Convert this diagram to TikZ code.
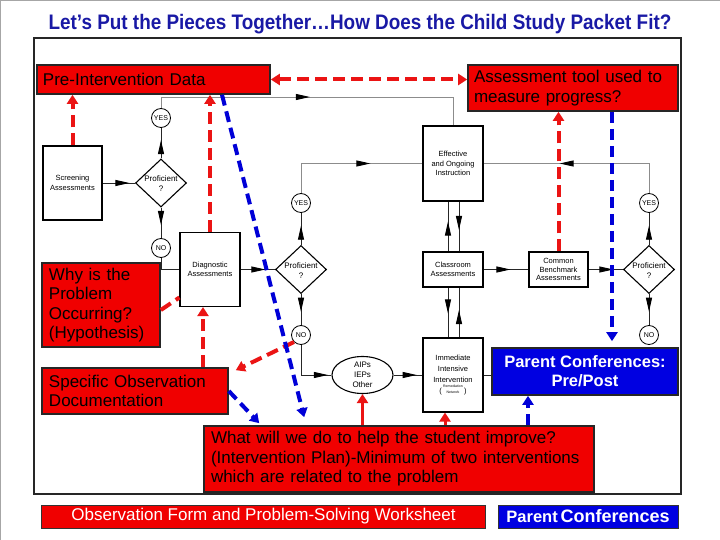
\documentclass[tikz,border=0pt]{standalone}
\usepackage{fontspec}
\setmainfont{Liberation Sans}
\newfontfamily\titlefont[FakeStretch=0.9]{Liberation Sans}
\usetikzlibrary{arrows.meta,shapes.geometric,decorations.markings,calc}
\definecolor{boxred}{RGB}{240,0,0}
\definecolor{boxblue}{RGB}{0,0,225}
\definecolor{titleblue}{RGB}{25,25,165}
\definecolor{dashblue}{RGB}{0,0,215}
\definecolor{dashred}{RGB}{235,20,20}
\tikzset{
  bigtext/.style={font=\fontsize{17bp}{19.4bp}\selectfont},
  redbox/.style={draw=black!85, line width=1.6bp, fill=boxred, inner xsep=6bp, inner ysep=0bp, align=left, bigtext},
  bluebox/.style={draw=black!85, line width=1.6bp, fill=boxblue, text=white, align=center, inner sep=0pt, font=\bfseries\fontsize{16.5bp}{19bp}\selectfont},
  fbox/.style={draw=black, line width=1.1bp, fill=white, align=center, inner sep=0pt, font=\fontsize{7.5bp}{9.5bp}\selectfont},
  fdia/.style={shape=diamond, draw=black, line width=1.1bp, fill=white, minimum width=51bp, minimum height=48bp, inner sep=0pt},
  ftext/.style={align=center, inner sep=0pt, font=\fontsize{8bp}{10bp}\selectfont},
  yn/.style={circle, draw=black, line width=0.8bp, fill=white, minimum size=19bp, inner sep=0pt, font=\fontsize{7bp}{8bp}\selectfont},
  flow/.style={draw=black!85, line width=0.9bp},
  greyflow/.style={draw=black!45, line width=0.9bp},
  midtip/.style={postaction={decorate}, decoration={markings, mark=at position #1 with {\arrow[black]{Triangle[length=14bp,width=6bp]}}}},
  reddash/.style={draw=dashred, line width=4bp, dash pattern=on 12bp off 6bp},
  bluedash/.style={draw=dashblue, line width=4bp, dash pattern=on 11bp off 6bp},
  dtip/.style={-{Triangle[length=9bp,width=11bp]}},
  redsolid/.style={draw=dashred, line width=3bp},
}
\begin{document}
\begin{tikzpicture}[x=1bp,y=-1bp]
\useasboundingbox (0,0) rectangle (720,540);
\fill[white] (0,0) rectangle (720,540);
\draw[gray!70, line width=1bp] (0.5,540) -- (0.5,0.5) -- (720,0.5);

% title
\node[font=\titlefont\bfseries\fontsize{21bp}{24bp}\selectfont, text=titleblue, inner sep=0pt] (title) at (360,24) {Let’s Put the Pieces Together…How Does the Child Study Packet Fit?};

% main frame
\draw[black!85, line width=1.8bp] (34,38) rectangle (681,494);

% flowchart nodes
\node[fbox, minimum width=59bp, minimum height=74bp] (screen) at (72.5,183) {Screening\\Assessments};
\node[fdia] (dia1) at (161,183) {};
\node[ftext] (dia1t) at (161,184) {Proficient\\?};
\node[yn] (yes1) at (161,118) {YES};
\node[yn] (no1) at (161,248) {NO};
\node[fbox, minimum width=60bp, minimum height=74bp] (diag) at (210,269.5) {Diagnostic\\Assessments};
\node[fdia] (dia2) at (301,269.5) {};
\node[ftext] (dia2t) at (301,270.5) {Proficient\\?};
\node[yn] (yes2) at (301,203) {YES};
\node[yn] (no2) at (301,335) {NO};
\node[fbox, minimum width=60bp, minimum height=75bp] (eff) at (453,163.5) {Effective\\and Ongoing\\Instruction};
\node[fbox, minimum width=60bp, minimum height=35bp] (cls) at (453,269.5) {Classroom\\Assessments};
\node[fbox, minimum width=60bp, minimum height=74bp, font=\fontsize{7.5bp}{11bp}\selectfont] (imm) at (453,375) {Immediate\\Intensive\\Intervention\\(\,{\fontsize{3.5bp}{3.8bp}\selectfont\shortstack{Remediation\\Network}}\,)};
\node[ellipse, draw=black, line width=1.1bp, fill=white, minimum width=61bp, minimum height=37bp, inner sep=0pt, align=center, font=\fontsize{8bp}{10bp}\selectfont] (aips) at (362.5,375) {AIPs\\IEPs\\Other};
\node[fbox, minimum width=59bp, minimum height=35bp, font=\fontsize{7.5bp}{8.7bp}\selectfont] (cbm) at (558.5,269.5) {Common\\Benchmark\\Assessments};
\node[fdia] (dia3) at (649,269.5) {};
\node[ftext] (dia3t) at (649,270.5) {Proficient\\?};
\node[yn] (yes3) at (649,203) {YES};
\node[yn] (no3) at (649,335) {NO};

% red / blue boxes
\node[redbox, text width=221bp, minimum height=29bp] (pre) at (153.5,79.5) {Pre-Intervention Data};
\node[redbox, text width=198bp, minimum height=46bp] (assess) at (573,88) {Assessment tool used to\\measure progress?};
\node[redbox, text width=104bp, minimum height=84bp, inner xsep=7bp] (why) at (101,305) {Why is the\\Problem\\Occurring?\\(Hypothesis)};
\node[redbox, text width=172bp, minimum height=46bp, inner xsep=7bp] (spec) at (135,391) {Specific Observation\\Documentation};
\node[redbox, text width=376bp, minimum height=66bp, inner xsep=7bp] (what) at (399,459) {What will we do to help the student improve?\\(Intervention Plan)-Minimum of two interventions\\which are related to the problem};
\node[bluebox, minimum width=186bp, minimum height=47bp] (pp) at (585,371.5) {Parent Conferences:\\Pre/Post};
\node[draw=black!80, line width=1bp, fill=boxred, text=white, minimum width=443bp, minimum height=23bp, inner sep=0pt, font=\fontsize{17bp}{18bp}\selectfont] (obs) at (263.5,516.5) {Observation Form and Problem-Solving Worksheet};
\node[draw=black!80, line width=1bp, fill=boxblue, text=white, minimum width=180bp, minimum height=23bp, inner sep=0pt] (pcb) at (588,516.5) {{\bfseries\fontsize{16.5bp}{18bp}\selectfont Parent} {\bfseries\fontsize{18bp}{18bp}\selectfont Conferences}};

% flowchart connectors
\coordinate (topy) at (0,97);
\draw[flow, midtip=0.83] (screen.east) -- (dia1.west);
\draw[flow, midtip=0.6] (dia1.north) -- (yes1.south);
\draw[flow, midtip=0.57] (dia1.south) -- (no1.north);
\draw[flow] (no1.south) |- (diag.west);
\draw[greyflow, midtip=160bp] (yes1.north) -- (yes1.north |- topy) -- (eff.north |- topy) -- (eff.north);
\draw[flow, midtip=0.72] (diag.east) -- (dia2.west);
\draw[flow, midtip=0.6] (dia2.north) -- (yes2.south);
\draw[flow, midtip=0.57] (dia2.south) -- (no2.north);
\draw[greyflow, midtip=99bp] (yes2.north) |- (eff.west);
\draw[flow, midtip=57bp] (no2.south) |- (aips.west);
\draw[flow, midtip=0.8] (aips.east) -- (imm.west);
\draw[flow] (imm.east) -- (imm.east -| pp.west);
\draw[flow, midtip=0.6] ([xshift=-5bp]cls.north) -- ([xshift=-5bp]eff.south);
\draw[flow, midtip=0.57] ([xshift=6bp]eff.south) -- ([xshift=6bp]cls.north);
\draw[flow, midtip=0.52] ([xshift=-5bp]cls.south) -- ([xshift=-5bp]imm.north);
\draw[flow, midtip=0.55] ([xshift=6bp]imm.north) -- ([xshift=6bp]cls.south);
\draw[flow, midtip=0.6] (cls.east) -- (cbm.west);
\draw[flow, midtip=0.72] (cbm.east) -- (dia3.west);
\draw[flow, midtip=0.6] (dia3.north) -- (yes3.south);
\draw[flow, midtip=0.57] (dia3.south) -- (no3.north);
\draw[greyflow, midtip=119bp] (yes3.north) |- (eff.east);

% red dashed links
\draw[reddash, {Triangle[length=9bp,width=11bp]}-{Triangle[length=9bp,width=11bp]}] (pre.east) -- (pre.east -| assess.west);
\draw[reddash, dtip] (screen.north) -- (screen.north |- pre.south);
\draw[reddash, dtip] (diag.north) -- (diag.north |- pre.south);
\draw[reddash, dtip] ([xshift=-7bp]diag.south |- spec.north) -- ([xshift=-7bp]diag.south);
\draw[reddash] ([yshift=-5bp]why.east) -- ([yshift=-28bp]diag.west);
\draw[reddash, dtip] (no2.south west) -- ([xshift=7bp,yshift=-3bp]spec.north east);
\draw[reddash, dtip] (cbm.north) -- (cbm.north |- assess.south);
\draw[redsolid, dtip] (aips.south |- what.north) -- (aips.south);
\draw[redsolid, dtip] ([xshift=-8bp]imm.south |- what.north) -- ([xshift=-8bp]imm.south);

% blue dashed links
\draw[bluedash, dtip] ([xshift=39bp]assess.south) -- ([xshift=39bp,yshift=6bp]assess.south |- pp.north);
\draw[bluedash, dtip] ([xshift=68.5bp]pre.south) -- ([xshift=101bp,yshift=8bp]what.north west);
\draw[bluedash, dtip] (spec.east) -- ([xshift=56bp,yshift=2bp]what.north west);
\draw[bluedash, dtip] ([xshift=-57bp]pp.south |- what.north) -- ([xshift=-57bp]pp.south);
\end{tikzpicture}
\end{document}
